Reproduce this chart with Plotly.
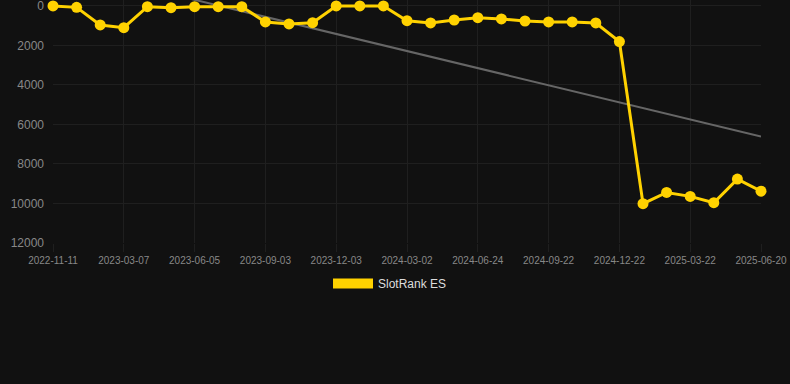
import numpy as np
import plotly.graph_objects as go

dates = [
    "2022-11-11", "2022-12-20", "2023-01-28", "2023-03-07", "2023-04-06",
    "2023-05-06", "2023-06-05", "2023-07-05", "2023-08-04", "2023-09-03",
    "2023-10-03", "2023-11-02", "2023-12-03", "2024-01-02", "2024-02-01",
    "2024-03-02", "2024-04-09", "2024-05-17", "2024-06-24", "2024-07-24",
    "2024-08-23", "2024-09-22", "2024-10-22", "2024-11-21", "2024-12-22",
    "2025-01-21", "2025-02-20", "2025-03-22", "2025-04-21", "2025-05-21",
    "2025-06-20",
]
ranks = [
    0, 70, 960, 1100, 35, 85, 35, 35, 35, 810,
    910, 845, 0, 0, 0, 745, 860, 710, 590, 655,
    760, 810, 810, 860, 1800, 10010, 9440, 9640, 9960, 8765,
    9375,
]
tick_labels = dates[::3]
y_ticks = [0, 2000, 4000, 6000, 8000, 10000, 12000]
series_name = "SlotRank ES"

YELLOW = "#FFD200"
BG = "#111111"
GRID = "#1f1f1f"

idx = np.arange(len(ranks))
slope, intercept = np.polyfit(idx, np.array(ranks, dtype=float), 1)
trend = slope * idx + intercept

fig = go.Figure()
fig.add_trace(go.Scatter(
    x=dates, y=trend, mode="lines",
    line=dict(color="#666666", width=2),
    showlegend=False, hoverinfo="skip",
))
fig.add_trace(go.Scatter(
    x=dates, y=ranks, mode="lines+markers",
    line=dict(color=YELLOW, width=3),
    marker=dict(color=YELLOW, size=11),
    cliponaxis=False, showlegend=False, name=series_name,
))
# legend entry (box-like swatch)
fig.add_trace(go.Scatter(
    x=[None], y=[None], mode="lines",
    line=dict(color=YELLOW, width=12),
    name=series_name, showlegend=True,
))

fig.update_layout(
    width=790, height=384,
    margin=dict(l=53, r=29, t=0, b=140.7, autoexpand=False),
    paper_bgcolor=BG, plot_bgcolor=BG,
    font=dict(family="Arial, Liberation Sans, sans-serif", color="#888888"),
    legend=dict(
        orientation="h", x=0.476, xanchor="center",
        y=-0.167, yanchor="middle",
        font=dict(size=12, color="#dddddd"), itemwidth=40,
        bgcolor="rgba(0,0,0,0)",
    ),
)
fig.update_xaxes(
    type="category", range=[0, len(dates) - 1],
    tickmode="array", tickvals=tick_labels, ticktext=tick_labels,
    tickfont=dict(size=10, color="#888888"), tickangle=0,
    showgrid=True, gridcolor=GRID, gridwidth=1,
    ticks="outside", ticklen=8, tickcolor=GRID,
    zeroline=False, showline=False, automargin=False,
)
fig.update_yaxes(
    range=[12000, -303], tickvals=y_ticks, tickformat="d",
    tickfont=dict(size=12, color="#888888"),
    showgrid=True, gridcolor=GRID, gridwidth=1,
    zeroline=False, showline=False, automargin=False,
    ticks="", ticklabelstandoff=8, ticklabeloverflow="allow",
)

fig.write_html(
    "out.html",
    config={"displayModeBar": False},
    post_script="document.body.style.margin='0';document.body.style.background='#111111';",
)
